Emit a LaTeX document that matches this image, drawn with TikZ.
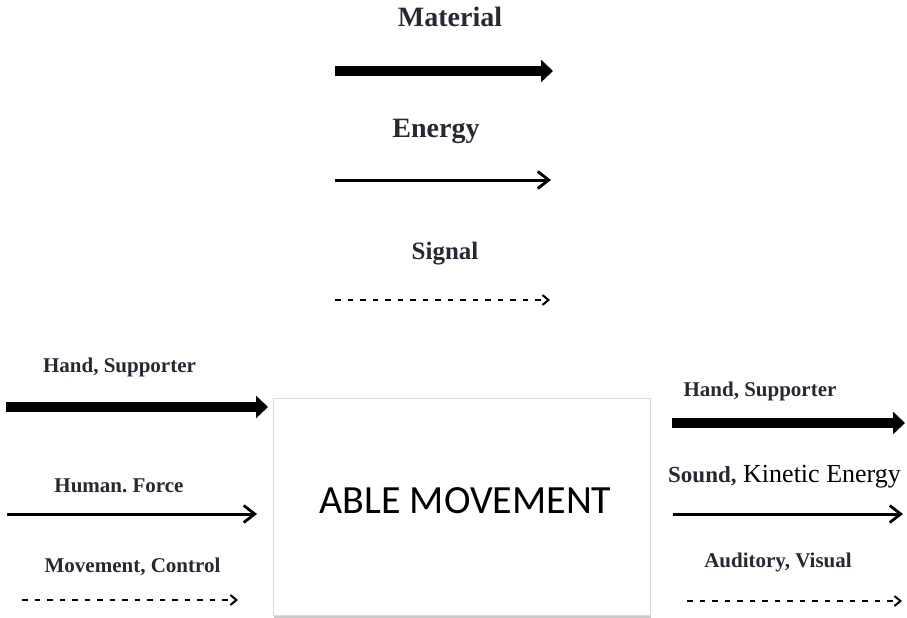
\documentclass[tikz,border=0pt]{standalone}
\usepackage{fontspec}
\setmainfont{Liberation Serif}
\newfontfamily\boxfont{Carlito}
\usetikzlibrary{arrows.meta, shadows}

\definecolor{lblgray}{RGB}{40,40,52}

\tikzset{
  matflow/.style={line width=10pt, -{Triangle[length=12pt, width=22pt]}},
  enflow/.style={line width=3pt, -{Straight Barb[length=11pt, width=17pt, line width=2.8pt]}},
  sigflow/.style={line width=2.2pt, dash pattern=on 5.5pt off 7pt, -{Straight Barb[length=6pt, width=10pt, line width=2pt]}},
  lbl/.style={inner sep=0pt, anchor=base, text=lblgray, font=\bfseries\fontsize{21}{25}\selectfont},
  biglbl/.style={lbl, font=\bfseries\fontsize{28}{32}\selectfont},
}

\begin{document}
\begin{tikzpicture}[x=1pt, y=-1pt]
\useasboundingbox (0, 0) rectangle (907, 618);
%Legend
\node (material) [biglbl] at (450, 27) {Material};
\coordinate (mat0) at (335, 71);
\coordinate (mat1) at (553, 71);
\draw [matflow] (mat0) -- (mat1);
\node (energy) [biglbl] at (436, 137) {Energy};
\coordinate (en0) at (335, 180);
\coordinate (en1) at (551, 180);
\draw [enflow] (en0) -- (en1);
\node (signal) [lbl, font=\bfseries\fontsize{25}{29}\selectfont] at (445, 259) {Signal};
\coordinate (sig0) at (335, 300);
\coordinate (sig1) at (550, 300);
\draw [sigflow] (sig0) -- (sig1);
%Box
\node (box) [draw=gray!30, line width=0.8pt, fill=white, minimum width=377pt, minimum height=217pt, inner sep=0pt,
  drop shadow={shadow xshift=0.6pt, shadow yshift=-2.5pt, fill=gray!70, opacity=0.6}] at (461.5, 506.5) {};
\node (able) [inner sep=0pt, anchor=base, font=\boxfont\fontsize{40}{44}\selectfont] at (465.5, 513) {ABLE MOVEMENT};
%Inputs
\node (inhand) [lbl] at (119.5, 372) {Hand, Supporter};
\coordinate (inm0) at (6, 407);
\coordinate (inm1) at (268, 407);
\draw [matflow] (inm0) -- (inm1);
\node (inforce) [lbl] at (119, 492) {Human.\ Force};
\coordinate (ine0) at (7, 514);
\coordinate (ine1) at (257, 514);
\draw [enflow] (ine0) -- (ine1);
\node (inctrl) [lbl] at (132.5, 572) {Movement, Control};
\coordinate (ins0) at (22, 600);
\coordinate (ins1) at (238, 600);
\draw [sigflow] (ins0) -- (ins1);
%Outputs
\node (outhand) [lbl] at (760, 396) {Hand, Supporter};
\coordinate (outm0) at (672, 423);
\coordinate (outm1) at (905, 423);
\draw [matflow] (outm0) -- (outm1);
\node (outsound) [lbl, anchor=base west, font=\bfseries\fontsize{23}{27}\selectfont] at (668, 482) {Sound,};
\node (outkin) [lbl, anchor=base west, text=black, font=\fontsize{26}{30}\selectfont] at (743, 482) {Kinetic Energy};
\coordinate (oute0) at (673, 514);
\coordinate (oute1) at (903, 514);
\draw [enflow] (oute0) -- (oute1);
\node (outsense) [lbl] at (778, 567) {Auditory, Visual};
\coordinate (outs0) at (687, 601);
\coordinate (outs1) at (902, 601);
\draw [sigflow] (outs0) -- (outs1);
\end{tikzpicture}
\end{document}
